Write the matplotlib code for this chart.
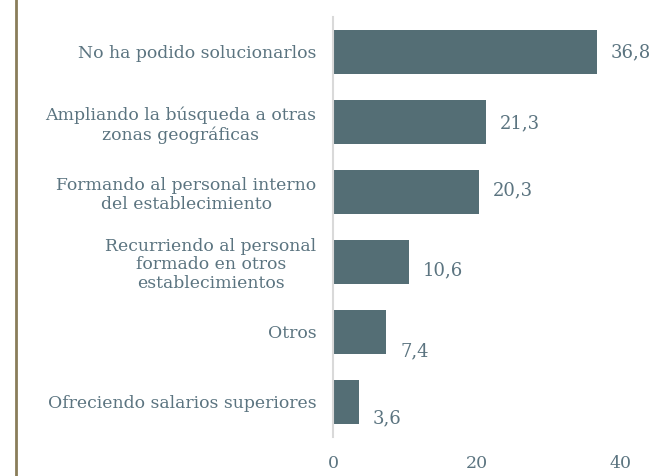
import matplotlib
matplotlib.use("Agg")
import matplotlib.pyplot as plt
from matplotlib.lines import Line2D

categories = [
    "No ha podido solucionarlos",
    "Ampliando la búsqueda a otras\nzonas geográficas",
    "Formando al personal interno\ndel establecimiento",
    "Recurriendo al personal\nformado en otros\nestablecimientos",
    "Otros",
    "Ofreciendo salarios superiores",
]
values = [36.8, 21.3, 20.3, 10.6, 7.4, 3.6]
value_labels = ["36,8", "21,3", "20,3", "10,6", "7,4", "3,6"]
xticks = [0, 20, 40]

bar_color = "#546e75"
text_color = "#5b7480"
font = "DejaVu Serif"

fig = plt.figure(figsize=(6.56, 4.76), dpi=100)
ax = fig.add_axes([333/656, 1-437/476, (620-333)/656, 420/476])

y = list(range(len(categories)))
ax.barh(y, values, height=0.62, color=bar_color)
ax.set_ylim(len(categories)-0.5, -0.5)
ax.set_xlim(0, 40)

# label vertical offsets (fraction of band) to mimic reference placement
label_dy = [0.0, 0.02, -0.02, 0.12, 0.27, 0.23]
for yi, v, lab, dy in zip(y, values, value_labels, label_dy):
    ax.annotate(lab, (v, yi + dy), xytext=(14, 0), textcoords="offset pixels",
                ha="left", va="center", fontsize=13, color=text_color, family=font)

ax.set_yticks(y)
ax.set_yticklabels(categories, fontsize=12.4, color=text_color, family=font, ha="right",
                   multialignment="center", linespacing=1.15)
ax.set_xticks(xticks)
ax.set_xticklabels([str(t) for t in xticks], fontsize=12.5, color=text_color, family=font)
ax.tick_params(axis="both", length=0)
ax.tick_params(axis="y", pad=12)
ax.tick_params(axis="x", pad=13)
for s in ["top", "right", "bottom"]:
    ax.spines[s].set_visible(False)
ax.spines["left"].set_color("#d9d9d9")
ax.spines["left"].set_linewidth(1.5)

fig.add_artist(Line2D([16/656, 16/656], [0, 1], transform=fig.transFigure,
                      color="#8a7d5a", linewidth=2))

fig.savefig("out.png", dpi=100)
